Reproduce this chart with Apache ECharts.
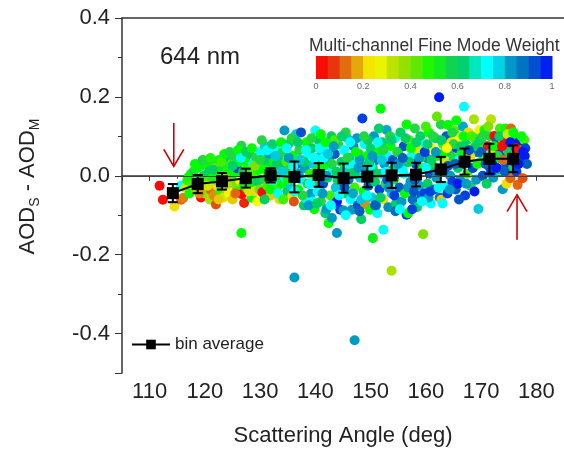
<!DOCTYPE html>
<html><head><meta charset="utf-8">
<script src="https://cdn.jsdelivr.net/npm/echarts@6/dist/echarts.min.js"></script>
<style>html,body{margin:0;padding:0;background:#fff}#c{width:564px;height:454px}</style>
</head><body><div id="c"></div>
<script>
// ---- bin averages ----
var binX = [114.2,118.7,123.1,127.4,131.9,136.2,140.6,145.1,149.4,153.8,158.2,162.7,167.0,171.5,175.8];
var binY = [-0.044,-0.021,-0.014,-0.006,0.001,-0.003,0.002,-0.006,-0.002,0.001,0.003,0.016,0.036,0.043,0.043];
var binErr = [0.023,0.023,0.021,0.024,0.018,0.039,0.030,0.037,0.027,0.032,0.030,0.032,0.033,0.038,0.034];
// ---- scatter points: [scattering angle, AOD_S - AOD_M, fine mode weight] ----
var pts111 = [[111.8,-0.025,0.02],[112.4,-0.061,0.03],[114.5,-0.078,0.22],[115.7,-0.061,0.12],[115.7,-0.025,0.75],[116.1,-0.056,0.14],[116.5,-0.03,0.3],[116.8,-0.012,0.45],[117.2,-0.045,0.5],[117.0,-0.004,0.5]];
var pts117 = [[117.5,0.005,0.5],[117.8,-0.02,0.45],[118.0,0.012,0.55],[118.3,-0.035,0.4],[118.6,0.02,0.5],[118.9,-0.01,0.42],[119.3,-0.055,0.02],[119.2,0.025,0.52],[119.5,-0.03,0.48],[119.8,0.0,0.58],[120.0,-0.045,0.38],[120.2,0.03,0.5],[120.4,-0.015,0.45],[120.7,0.01,0.6],[120.9,-0.06,0.35],[121.0,-0.035,0.12]];
var pts121 = [[121.2,0.035,0.55],[121.4,-0.005,0.5],[121.6,-0.05,0.15],[121.8,0.02,0.42],[122.0,-0.073,0.1],[122.2,-0.025,0.22],[122.4,0.008,0.5],[122.6,0.04,0.5],[122.8,-0.04,0.45],[123.0,-0.015,0.1],[123.2,0.025,0.55],[123.4,-0.055,0.3],[123.6,0.0,0.4],[123.8,-0.03,0.2],[124.0,0.045,0.6],[124.2,0.015,0.5],[124.4,-0.045,0.24],[124.6,-0.01,0.15],[124.8,0.03,0.45]];
var pts125 = [[125.0,-0.06,0.2],[125.2,0.05,0.55],[125.4,0.0,0.5],[125.6,-0.025,0.4],[125.8,0.019,0.95],[126.0,-0.04,0.45],[126.2,0.035,0.5],[126.4,-0.012,0.25],[126.6,0.076,0.55],[126.6,-0.145,0.5],[126.7,-0.047,0.02],[126.9,0.01,0.6],[127.1,-0.069,0.06],[127.3,0.04,0.5],[127.5,-0.03,0.42],[127.7,0.02,0.48],[127.9,-0.005,0.3],[128.1,0.055,0.6],[128.3,-0.02,0.5],[128.5,-0.056,0.5],[128.7,0.03,0.75],[128.9,0.005,0.45],[129.1,-0.04,0.22],[129.3,0.045,0.55],[129.5,-0.015,0.6],[129.7,0.015,0.5],[129.9,-0.035,0.42]];
var pts130 = [[130.1,0.06,0.72],[130.4,-0.042,0.02],[130.5,0.025,0.5],[130.7,-0.01,0.55],[130.9,0.075,0.78],[131.1,0.04,0.6],[131.3,-0.025,0.45],[131.5,0.005,0.5],[131.7,0.055,0.82],[131.9,-0.05,0.2],[132.1,0.02,0.6],[132.3,-0.015,0.7],[132.5,0.035,0.5],[132.7,0.07,0.75],[132.9,-0.035,0.45],[133.1,0.0,0.55],[133.3,0.045,0.62],[133.5,-0.06,0.3],[133.7,0.025,0.8],[133.9,-0.02,0.5],[134.1,0.06,0.55],[134.4,0.115,0.82],[134.5,-0.005,0.75],[134.7,0.035,0.45],[134.9,-0.04,0.6]];
var pts135 = [[135.1,0.08,0.6],[135.3,0.015,0.55],[135.5,-0.025,0.78],[135.8,-0.052,0.22],[135.9,0.05,0.5],[136.1,-0.065,0.1],[136.2,-0.258,0.82],[136.3,0.0,0.62],[136.5,0.105,0.78],[136.7,0.03,0.88],[136.9,-0.035,0.5],[137.1,0.065,0.55],[137.4,0.11,0.92],[137.5,-0.01,0.75],[137.7,0.04,0.45],[137.9,-0.075,0.6],[138.1,0.02,0.82],[138.2,-0.057,0.75],[138.4,0.085,0.5],[138.6,-0.02,0.55],[138.8,0.055,0.72],[139.0,0.005,0.48],[139.2,-0.045,0.82],[139.4,0.07,0.6],[139.6,0.03,0.78],[139.8,-0.085,0.5],[140.0,0.115,0.75],[140.0,-0.015,0.62]];
var pts140 = [[140.2,0.045,0.55],[140.4,-0.04,0.75],[140.6,0.09,0.6],[140.8,0.01,0.82],[141.0,-0.065,0.55],[141.2,0.06,0.78],[141.4,-0.02,0.92],[141.6,0.025,0.5],[141.8,-0.095,0.62],[142.0,0.075,0.72],[142.2,-0.005,0.6],[142.4,-0.12,0.5],[142.5,0.04,0.8],[142.7,-0.05,0.45],[142.9,0.1,0.6],[143.0,-0.107,0.82],[143.1,0.015,0.75],[143.3,-0.07,0.5],[143.5,0.055,0.9],[143.7,-0.03,0.78],[143.9,-0.145,0.82],[143.9,-0.065,0.98],[144.1,0.08,0.55],[144.3,0.0,0.7],[144.5,-0.086,0.95],[144.7,0.035,0.6],[144.9,-0.015,0.85]];
var pts145 = [[145.1,-0.088,0.82],[145.2,0.065,0.75],[145.4,0.02,0.5],[145.6,-0.045,0.6],[145.8,0.095,0.78],[146.0,-0.01,0.88],[146.2,0.045,0.62],[146.4,-0.06,0.75],[146.6,-0.086,0.82],[146.7,0.015,0.55],[146.9,0.075,0.85],[147.1,-0.417,0.82],[147.1,-0.03,0.45],[147.3,0.03,0.75],[147.5,0.095,0.82],[147.7,-0.075,0.92],[147.9,0.055,0.55],[148.1,-0.005,0.78],[148.3,-0.11,0.6],[148.5,0.145,0.95],[148.5,0.025,0.6],[148.7,-0.04,0.5],[148.9,0.08,0.75],[149.0,-0.072,0.15],[149.2,0.01,0.82],[149.4,0.05,0.5],[149.6,-0.025,0.9],[149.9,-0.086,0.5]];
var pts150 = [[150.0,0.07,0.62],[150.2,-0.055,0.78],[150.4,-0.158,0.52],[150.4,0.02,0.55],[150.6,0.1,0.82],[150.8,-0.015,0.6],[151.0,0.04,0.88],[151.2,-0.095,0.75],[151.4,0.06,0.5],[151.6,-0.035,0.95],[151.8,0.17,0.5],[151.9,0.005,0.78],[152.1,0.085,0.6],[152.3,-0.137,0.75],[152.3,-0.06,0.22],[152.5,0.03,0.82],[152.7,-0.02,0.55],[152.9,0.116,0.8],[153.0,0.05,0.72],[153.2,-0.08,0.85],[153.4,0.01,0.62],[153.6,0.075,0.5],[153.8,-0.241,0.35],[153.8,-0.045,0.78],[154.0,0.04,0.92],[154.2,-0.01,0.55],[154.4,0.095,0.75],[154.6,-0.07,0.6],[154.8,0.025,0.82]];
var pts155 = [[155.0,0.06,0.55],[155.2,-0.03,0.9],[155.4,0.11,0.6],[155.6,-0.065,0.82],[155.8,0.015,0.75],[156.0,0.075,0.92],[156.2,-0.045,0.5],[156.5,-0.099,0.95],[156.6,0.035,0.6],[156.8,-0.095,0.5],[157.0,0.09,0.45],[157.2,-0.015,0.82],[157.4,0.05,0.75],[157.6,-0.06,0.88],[157.8,0.0,0.55],[158.0,0.12,0.55],[158.2,0.03,0.95],[158.4,-0.08,0.62],[158.6,0.065,0.3],[158.8,-0.025,0.8],[159.0,0.1,0.6],[159.2,-0.05,0.9],[159.5,-0.148,0.4],[159.5,0.02,0.5],[159.8,-0.044,0.95],[159.9,0.08,0.75]];
var pts160 = [[160.1,0.045,0.85],[160.3,-0.02,0.6],[160.5,0.11,0.5],[160.7,0.005,0.92],[160.9,-0.07,0.75],[161.1,0.07,0.25],[161.3,0.025,0.55],[161.5,-0.035,0.9],[161.7,0.095,0.62],[161.9,-0.005,0.82],[162.1,0.05,0.5],[162.4,0.199,0.98],[162.5,-0.055,0.88],[162.8,-0.061,0.2],[162.7,0.13,0.55],[162.9,0.015,0.95],[163.1,0.08,0.45],[163.3,-0.025,0.75],[163.5,0.035,0.3],[163.7,0.1,0.9],[163.9,-0.045,0.95],[164.0,0.129,0.5],[164.2,0.06,0.6],[164.4,0.0,0.82],[164.6,0.085,0.22],[164.8,-0.015,0.95]];
var pts165 = [[165.0,0.045,0.55],[165.2,0.115,0.42],[165.4,-0.035,0.9],[165.6,0.07,0.95],[165.8,0.02,0.6],[166.0,0.095,0.25],[166.2,-0.01,0.82],[166.4,0.055,0.5],[166.7,0.125,0.8],[166.9,0.175,0.75],[166.9,0.03,0.92],[167.1,-0.05,0.95],[167.3,0.08,0.62],[167.5,0.005,0.45],[167.7,0.11,0.22],[167.9,0.045,0.85],[168.1,-0.025,0.55],[168.3,0.07,0.3],[168.5,0.02,0.95],[168.7,0.143,0.35],[168.9,0.095,0.5],[169.1,-0.01,0.82],[169.3,0.06,0.88],[169.5,-0.084,0.78],[169.7,0.116,0.24],[169.9,0.035,0.6]];
var pts170 = [[170.1,0.085,0.45],[170.3,0.0,0.92],[170.6,0.116,0.5],[170.8,0.05,0.75],[171.0,-0.02,0.6],[171.2,0.075,0.02],[171.4,0.025,0.95],[171.6,0.1,0.55],[171.8,0.143,0.33],[172.0,0.06,0.22],[172.2,-0.005,0.82],[172.4,0.101,0.02],[172.6,0.04,0.5],[172.8,0.085,0.9],[173.0,0.073,0.03],[173.2,0.015,0.6],[173.4,0.12,0.45],[173.6,0.055,0.95],[173.9,-0.034,0.82],[174.0,0.09,0.25],[174.2,0.091,0.02],[174.4,0.12,0.5],[174.6,-0.02,0.22],[174.5,0.03,0.92],[174.8,0.065,0.45]];
var pts175 = [[175.0,0.105,0.35],[175.2,0.045,0.98],[175.3,-0.006,0.12],[175.4,0.12,0.12],[175.6,0.075,0.92],[175.8,0.02,0.55],[176.0,0.095,0.5],[176.2,0.055,0.05],[176.4,0.01,0.95],[176.6,-0.023,0.12],[176.8,0.085,0.98],[177.0,0.04,0.9],[177.2,0.065,0.4],[177.5,-0.006,0.1],[177.8,0.091,0.45],[177.9,0.05,0.98],[178.0,0.07,0.95],[178.3,0.03,0.9]];
var ptsCore = [[131.0,0.015,0.5],[132.0,-0.005,0.55],[133.0,0.03,0.6],[134.0,0.01,0.78],[135.0,-0.01,0.5],[136.0,0.025,0.75],[137.0,0.005,0.82],[138.0,0.035,0.6],[139.0,-0.02,0.75],[140.5,0.015,0.5],[141.5,0.045,0.75],[142.0,0.0,0.82],[143.0,0.03,0.55],[144.0,-0.01,0.62],[145.0,0.01,0.78],[146.0,0.03,0.75],[147.0,0.005,0.6],[148.0,0.04,0.82],[149.0,-0.005,0.55],[150.0,0.025,0.75],[151.0,0.005,0.6],[152.0,0.04,0.78],[153.0,-0.01,0.92],[154.0,0.015,0.62],[155.0,0.03,0.82],[156.0,0.005,0.75],[157.0,0.035,0.6],[158.0,-0.01,0.9],[159.0,0.045,0.55],[160.0,0.02,0.75],[161.0,0.04,0.6],[162.0,0.01,0.82],[163.0,0.055,0.5],[164.0,0.025,0.92],[165.0,0.08,0.55],[166.0,0.04,0.75],[167.0,0.06,0.5],[168.0,0.05,0.22],[169.0,0.075,0.6],[170.0,0.06,0.9],[171.0,0.045,0.45],[172.0,0.03,0.95],[173.0,0.05,0.55],[174.0,0.04,0.12],[175.0,0.06,0.6],[176.0,0.035,0.92]];
var ptsUpper = [[141.0,0.105,0.5],[143.5,0.09,0.45],[145.5,0.11,0.55],[149.5,0.09,0.6],[151.5,0.12,0.62],[153.5,0.1,0.55],[156.5,0.13,0.5],[160.0,0.125,0.45],[162.0,0.15,0.42],[165.5,0.14,0.5]];
var ptsLower = [[139.5,-0.065,0.75],[142.0,-0.085,0.82],[145.5,-0.1,0.75],[148.0,-0.09,0.9],[151.0,-0.075,0.82],[154.5,-0.09,0.88],[157.5,-0.085,0.95],[160.5,-0.055,0.82],[163.0,-0.07,0.75],[166.0,-0.06,0.92]];
var ptsFillA = [[118.2,0.03,0.5],[119.0,-0.045,0.15],[119.6,0.04,0.55],[120.5,-0.025,0.3],[121.0,0.045,0.48],[121.5,0.015,0.6],[122.0,-0.01,0.5],[122.5,-0.06,0.2],[123.0,0.035,0.45],[123.5,0.055,0.5],[124.0,-0.02,0.35],[124.5,0.06,0.55],[125.0,0.025,0.62],[125.5,-0.045,0.12],[126.0,0.065,0.5],[126.5,0.045,0.75],[127.0,-0.02,0.52],[127.5,0.06,0.6],[128.0,-0.04,0.3],[128.5,0.07,0.5],[129.0,0.025,0.4],[129.5,-0.065,0.25],[130.0,0.04,0.55]];
var ptsFillB = [[130.3,0.09,0.55],[130.8,-0.06,0.6],[131.3,0.065,0.72],[131.8,-0.035,0.5],[132.2,0.08,0.62],[132.8,0.05,0.78],[133.2,-0.045,0.75],[133.8,0.085,0.5],[134.2,-0.06,0.45],[134.8,0.07,0.75],[135.2,0.045,0.82],[135.7,0.095,0.55],[136.2,-0.04,0.72],[136.8,0.085,0.6],[137.2,0.04,0.78],[137.7,-0.05,0.55],[138.3,0.065,0.75],[138.8,-0.075,0.82],[139.3,0.095,0.55],[139.8,0.045,0.72]];
var ptsFillC = [[140.3,-0.07,0.6],[140.8,0.07,0.75],[141.3,-0.045,0.82],[141.8,0.085,0.5],[142.3,0.055,0.78],[142.8,-0.075,0.72],[143.3,0.075,0.82],[143.8,0.01,0.6],[144.3,-0.05,0.75],[144.8,0.1,0.62],[145.3,-0.03,0.92],[145.8,0.045,0.55],[146.3,0.085,0.72],[146.8,-0.045,0.8],[147.3,0.06,0.5],[147.8,0.02,0.82],[148.3,-0.06,0.78],[148.8,0.1,0.55],[149.3,-0.05,0.75],[149.8,0.035,0.62]];
var ptsFillD = [[150.3,0.05,0.82],[150.8,-0.075,0.9],[151.3,0.085,0.75],[151.8,-0.055,0.6],[152.3,0.065,0.55],[152.8,0.01,0.75],[153.3,-0.03,0.82],[153.8,0.09,0.62],[154.3,-0.05,0.95],[154.8,0.06,0.55],[155.3,-0.085,0.75],[155.8,0.045,0.9],[156.3,0.095,0.6],[156.8,-0.03,0.82],[157.3,0.07,0.5],[157.8,-0.04,0.92],[158.3,0.085,0.62],[158.8,0.045,0.82],[159.3,-0.065,0.75],[159.8,0.06,0.95]];
var ptsFillE = [[160.3,0.08,0.62],[160.8,-0.04,0.95],[161.3,0.1,0.55],[161.8,0.06,0.82],[162.3,-0.03,0.75],[162.8,0.09,0.6],[163.3,0.015,0.92],[163.8,0.07,0.25],[164.3,-0.035,0.82],[164.8,0.11,0.55],[165.3,0.03,0.9],[165.8,-0.02,0.98],[166.3,0.075,0.6],[166.8,0.1,0.5],[167.3,-0.02,0.82],[167.8,0.065,0.92],[168.3,0.1,0.45],[168.8,-0.04,0.98],[169.3,0.03,0.5],[169.8,0.09,0.62]];
var ptsFillF = [[170.3,0.1,0.55],[170.8,0.03,0.9],[171.3,0.125,0.4],[171.8,0.01,0.95],[172.3,0.075,0.5],[172.8,0.02,0.98],[173.3,0.1,0.6],[173.8,0.075,0.02],[174.3,0.01,0.9],[174.8,0.105,0.3],[175.3,0.085,0.98],[175.8,0.11,0.5],[176.3,0.07,0.05],[176.8,0.03,0.98],[177.3,0.1,0.5],[177.6,0.06,0.98]];
// ---- annotation arrows: [angle, tail value, tip value] ----
var arrows = [[114.37,0.134,0.024],[176.5,-0.162,-0.048]];
// ---- colour scale ----
var cmap = ['#ff0000','#f01a0a','#e05010','#e08a10','#e8c800','#ffff00','#d0e800','#a8e000','#80e000','#40f000','#00ff00','#20d840','#00d060','#00d080','#00ffff','#00ffff','#00a8c8','#0088c0','#0060c0','#0040e0','#0000ff'];

var allPts = [].concat(pts111,pts117,pts121,pts125,pts130,pts135,pts140,pts145,pts150,pts155,pts160,pts165,pts170,pts175,ptsCore,ptsUpper,ptsLower,ptsFillA,ptsFillB,ptsFillC,ptsFillD,ptsFillE,ptsFillF);
var binData = binX.map(function(x,i){return [x,binY[i]];});
var errData = binX.map(function(x,i){return [x,binY[i],binErr[i]];});
var cbarSegs = [];
for (var k=0;k<20;k++){ cbarSegs.push([k/20,(k+1)/20,(k+0.5)/20]); }

var FONT = 'Liberation Sans, Arial, Helvetica, sans-serif';
var chart = echarts.init(document.getElementById('c'), null, {renderer:'canvas'});
chart.setOption({
  animation:false,
  backgroundColor:'#fff',
  textStyle:{fontFamily:FONT},
  title:[
    {text:'644 nm', left:155, top:40, textStyle:{fontSize:24, fontWeight:'normal', color:'#222', fontFamily:FONT}},
    {text:'Multi-channel Fine Mode Weight', left:304, top:32, textStyle:{fontSize:17.5, fontWeight:'normal', color:'#333', fontFamily:FONT}}
  ],
  legend:{data:['bin average'], left:126, top:331, itemWidth:38, itemHeight:12, itemGap:6,
    textStyle:{fontSize:17, color:'#222', fontFamily:FONT}},
  visualMap:{type:'continuous', show:false, min:0, max:1, dimension:2, seriesIndex:[0,5], inRange:{color:cmap}},
  grid:[
    {left:122, top:18, width:444, height:355},
    {left:316, top:56, width:236, height:23}
  ],
  xAxis:[
    {gridIndex:0, type:'value', min:105, max:185, splitNumber:8, position:'bottom',
     axisLine:{lineStyle:{color:'#333', width:1.5}},
     axisTick:{length:5, lineStyle:{color:'#333'}},
     minorTick:{show:true, splitNumber:2, length:3, lineStyle:{color:'#333'}},
     splitLine:{show:false},
     axisLabel:{fontSize:22, color:'#222', margin:8, fontFamily:FONT, showMinLabel:false, showMaxLabel:false, formatter:function(v){return (Math.round(v)%10===0)?String(Math.round(v)):'';}},
     name:'Scattering Angle (deg)', nameLocation:'middle', nameGap:52,
     nameTextStyle:{fontSize:22, color:'#222', fontFamily:FONT}},
    {gridIndex:0, type:'value', min:105, max:185, position:'top',
     axisLine:{show:true, lineStyle:{color:'#333', width:1.5}}, axisTick:{show:false}, axisLabel:{show:false}, splitLine:{show:false}},
    {gridIndex:1, type:'value', min:0, max:1, interval:0.2,
     axisLine:{show:false}, axisTick:{show:false}, splitLine:{show:false},
     axisLabel:{fontSize:9, color:'#666', margin:3, fontFamily:FONT, formatter:function(v){return (v===0||v===1)?String(v):v.toFixed(1);}}}
  ],
  yAxis:[
    {gridIndex:0, type:'value', min:-0.5, max:0.4, splitNumber:4,
     axisLine:{show:true, lineStyle:{color:'#333', width:1.5}},
     axisTick:{show:true, length:7, lineStyle:{color:'#333'}},
     minorTick:{show:true, splitNumber:2, length:4, lineStyle:{color:'#333'}},
     splitLine:{show:false},
     axisLabel:{fontSize:22, color:'#222', margin:12, fontFamily:FONT, formatter:function(v){var r=Math.round(v*10); if(r%2!==0) return ''; return (r/10).toFixed(1);}},
     name:'{a|AOD}{s|S}{a| - AOD}{s|M}', nameLocation:'middle', nameRotate:90, nameGap:80,
     nameTextStyle:{padding:[0,0,0,18], rich:{a:{fontSize:22, lineHeight:28, verticalAlign:'middle', color:'#222', fontFamily:FONT}, s:{fontSize:14, lineHeight:14, verticalAlign:'bottom', color:'#222', fontFamily:FONT}}}},
    {gridIndex:1, type:'value', min:0, max:1, show:false}
  ],
  series:[
    {name:'points', type:'scatter', xAxisIndex:0, yAxisIndex:0, data:allPts, symbolSize:10, z:2, itemStyle:{opacity:1}},
    {name:'zero', type:'line', xAxisIndex:0, yAxisIndex:0, data:[], z:3,
     markLine:{silent:true, symbol:['none','none'], label:{show:false}, lineStyle:{color:'#444', width:1, type:'solid'}, data:[{yAxis:0}]}},
    {name:'errors', type:'custom', xAxisIndex:0, yAxisIndex:0, data:errData, z:4,
     encode:{x:0, y:1},
     renderItem:function(params, api){
       var x=api.value(0), y=api.value(1), e=api.value(2);
       var t=api.coord([x,y+e]), b=api.coord([x,y-e]); var hw=5;
       var st={stroke:'#000', lineWidth:2};
       return {type:'group', children:[
         {type:'line', shape:{x1:t[0],y1:t[1],x2:b[0],y2:b[1]}, style:st},
         {type:'line', shape:{x1:t[0]-hw,y1:t[1],x2:t[0]+hw,y2:t[1]}, style:st},
         {type:'line', shape:{x1:b[0]-hw,y1:b[1],x2:b[0]+hw,y2:b[1]}, style:st}
       ]};
     }},
    {name:'bin average', type:'line', xAxisIndex:0, yAxisIndex:0, data:binData, z:5,
     symbol:'rect', symbolSize:12, itemStyle:{color:'#000'}, lineStyle:{color:'#000', width:2}},
    {name:'arrows', type:'custom', xAxisIndex:0, yAxisIndex:0, data:arrows, z:6,
     renderItem:function(params, api){
       var x=api.value(0);
       var a=api.coord([x,api.value(1)]), b=api.coord([x,api.value(2)]);
       var d=(b[1]>a[1])?1:-1;
       var st={stroke:'#d00000', lineWidth:1.6, fill:null};
       return {type:'group', children:[
         {type:'line', shape:{x1:a[0],y1:a[1],x2:b[0],y2:b[1]}, style:st},
         {type:'polyline', shape:{points:[[b[0]-10,b[1]-d*17],[b[0],b[1]],[b[0]+10,b[1]-d*17]]}, style:st}
       ]};
     }},
    {name:'colorbar', type:'custom', xAxisIndex:2, yAxisIndex:1, data:cbarSegs, z:2,
     renderItem:function(params, api){
       var p0=api.coord([api.value(0),1]), p1=api.coord([api.value(1),0]);
       return {type:'rect', shape:{x:p0[0], y:p0[1], width:p1[0]-p0[0]+0.5, height:p1[1]-p0[1]}, style:{fill:api.visual('color')}};
     }}
  ]
});
</script></body></html>
